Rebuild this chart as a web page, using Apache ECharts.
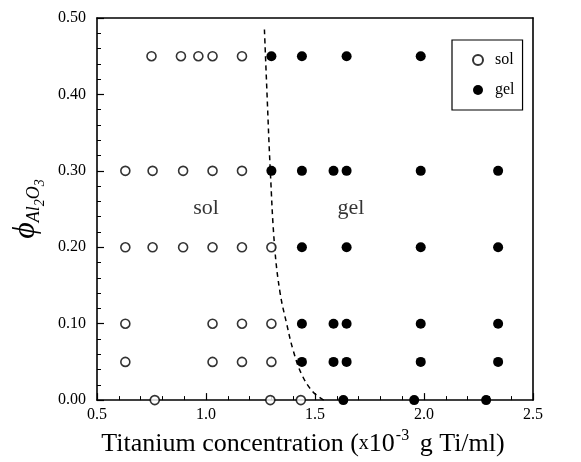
<!DOCTYPE html>
<html>
<head>
<meta charset="utf-8">
<script src="https://cdn.jsdelivr.net/npm/echarts@6/dist/echarts.min.js"></script>
<style>
  html, body { margin: 0; padding: 0; background: #fff; }
  #chart { width: 581px; height: 462px; }
</style>
</head>
<body>
<div id="chart"></div>
<script>
// Titanium concentration (x10^-3 g Ti/ml) of each sample, grouped by alumina volume fraction
const phiLevels = [0.45, 0.30, 0.20, 0.10, 0.05, 0.00];
const solX = [
  [0.75, 0.885, 0.965, 1.03, 1.165],
  [0.63, 0.755, 0.895, 1.03, 1.165],
  [0.63, 0.755, 0.895, 1.03, 1.165, 1.30],
  [0.63, 1.03, 1.165, 1.30],
  [0.63, 1.03, 1.165, 1.30],
  [0.765, 1.295, 1.435]
];
const gelX = [
  [1.30, 1.44, 1.645, 1.985],
  [1.30, 1.44, 1.585, 1.645, 1.985, 2.34],
  [1.44, 1.645, 1.985, 2.34],
  [1.44, 1.585, 1.645, 1.985, 2.34],
  [1.44, 1.585, 1.645, 1.985, 2.34],
  [1.63, 1.955, 2.285]
];
// sol/gel boundary (dashed curve)
const boundaryX = [1.268, 1.28, 1.295, 1.315, 1.34, 1.37, 1.40, 1.44, 1.49, 1.54];
const boundaryY = [0.485, 0.40, 0.30, 0.20, 0.14, 0.10, 0.065, 0.033, 0.011, 0.0];
// region labels
const regionLabels = [
  { text: 'sol', x: 1.0, y: 0.251 },
  { text: 'gel', x: 1.665, y: 0.251 }
];

const toPoints = (rows) => {
  const pts = [];
  rows.forEach((xs, i) => xs.forEach((x) => pts.push([x, phiLevels[i]])));
  return pts;
};

const FONT = 'Liberation Serif';
const chart = echarts.init(document.getElementById('chart'), null, { renderer: 'canvas' });

const axisCommon = {
  axisLine: { show: true, onZero: false, lineStyle: { color: '#000', width: 1.6 } },
  axisTick: { show: true, inside: true, length: 7, lineStyle: { color: '#000', width: 1.2 } },
  minorTick: { show: true, splitNumber: 5, length: 4, lineStyle: { color: '#000', width: 1 } },
  splitLine: { show: false }
};
const frameAxis = {
  axisLine: { show: true, onZero: false, lineStyle: { color: '#000', width: 1.6 } },
  axisTick: { show: false },
  axisLabel: { show: false },
  splitLine: { show: false }
};

chart.setOption({
  animation: false,
  backgroundColor: '#fff',
  grid: { left: 97, right: 48, top: 18, bottom: 42 },
  legend: {
    left: 452, top: 40,
    orient: 'vertical',
    itemGap: 14,
    itemWidth: 12, itemHeight: 10,
    padding: [12, 8, 12, 20],
    borderColor: '#000', borderWidth: 1.2,
    textStyle: { fontFamily: FONT, fontSize: 16, color: '#000', padding: [0, 0, 0, 6] },
    data: ['sol', 'gel']
  },
  xAxis: [{
    ...axisCommon,
    type: 'value', min: 0.5, max: 2.5, interval: 0.5,
    name: 'Titanium concentration ({n|x}10{sup|-3} g Ti/ml)',
    nameLocation: 'middle', nameGap: 17,
    nameTextStyle: {
      fontFamily: FONT, fontSize: 26, color: '#000', padding: [0, 24, 0, 0],
      rich: {
        n: { fontFamily: FONT, fontSize: 20, color: '#000' },
        sup: { fontFamily: FONT, fontSize: 16, color: '#000', verticalAlign: 'bottom', padding: [0, 4, 16, 1] }
      }
    },
    axisLabel: { fontFamily: FONT, fontSize: 16, color: '#000', margin: 7, formatter: (v) => v.toFixed(1) }
  }, {
    ...frameAxis,
    type: 'value', min: 0.5, max: 2.5, interval: 0.5, position: 'top'
  }],
  yAxis: [{
    ...axisCommon,
    type: 'value', min: 0, max: 0.5, interval: 0.1,
    name: '{phi|ϕ}{sub|Al}{sub2|2}{sub|O}{sub2|3}',
    nameLocation: 'middle', nameGap: 52, nameRotate: 90,
    nameTextStyle: {
      padding: [0, 0, 0, 0],
      rich: {
        phi: { fontFamily: FONT, fontSize: 32, fontStyle: 'italic', color: '#000' },
        sub: { fontFamily: FONT, fontSize: 18, fontStyle: 'italic', color: '#000', verticalAlign: 'bottom', padding: [0, 0, -2, 0] },
        sub2: { fontFamily: FONT, fontSize: 14, fontStyle: 'italic', color: '#000', verticalAlign: 'bottom', padding: [0, 0, -6, 0] }
      }
    },
    axisLabel: { fontFamily: FONT, fontSize: 16, color: '#000', margin: 11, formatter: (v) => v.toFixed(2) }
  }, {
    ...frameAxis,
    type: 'value', min: 0, max: 0.5, interval: 0.1, position: 'right'
  }],
  series: [
    {
      name: 'sol', type: 'scatter', clip: false, z: 5,
      symbol: 'circle', symbolSize: 9,
      itemStyle: { color: '#fff', borderColor: '#000', borderWidth: 1.6 },
      data: toPoints(solX)
    },
    {
      name: 'gel', type: 'scatter', clip: false, z: 5,
      symbol: 'circle', symbolSize: 10,
      itemStyle: { color: '#000', borderColor: '#000', borderWidth: 0, opacity: 1 },
      data: toPoints(gelX)
    },
    {
      name: 'boundary', type: 'line', smooth: 0.4, showSymbol: false, symbol: 'none',
      lineStyle: { color: '#000', width: 1.5, type: [5, 4] },
      data: boundaryX.map((x, i) => [x, boundaryY[i]]),
      z: 4
    },
    {
      name: 'regions', type: 'scatter', symbolSize: 0, silent: true,
      label: {
        show: true, position: 'inside', fontFamily: FONT, fontSize: 22, color: '#000',
        formatter: (p) => p.data.text
      },
      data: regionLabels.map((r) => ({ value: [r.x, r.y], text: r.text }))
    }
  ]
});
</script>
</body>
</html>
